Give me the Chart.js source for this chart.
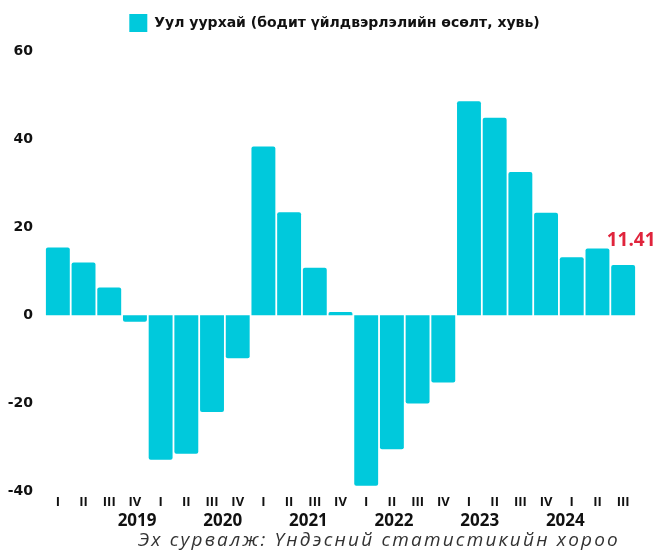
<!DOCTYPE html>
<html lang="mn">
<head>
  <meta charset="UTF-8" />
  <title>Уул уурхай</title>
  <script src="https://cdn.jsdelivr.net/npm/chart.js"></script>
  <style>
    html, body { margin: 0; padding: 0; background: #fff; }
    .wrap { width: 657px; height: 551px; }
  </style>
</head>
<body>
  <div class="wrap"><canvas id="mining"></canvas></div>

  <script>
    const quarters = ['I', 'II', 'III', 'IV', 'I', 'II', 'III', 'IV', 'I', 'II', 'III', 'IV',
      'I', 'II', 'III', 'IV', 'I', 'II', 'III', 'IV', 'I', 'II', 'III'];
    const growth = [15.4, 12.0, 6.3, -1.5, -32.9, -31.5, -22.0, -9.8, 38.4, 23.4, 10.8, 0.7,
      -38.8, -30.5, -20.1, -15.3, 48.7, 44.9, 32.6, 23.3, 13.2, 15.2, 11.41];
    const years = ['2019', '2020', '2021', '2022', '2023', '2024'];
    const yearPos = [1.5, 5.5, 9.5, 13.5, 17.5, 21.5];
    const yTicks = [60, 40, 20, 0, -20, -40];

    const FONT = '"Open Sans", sans-serif';
    const WIDE = '"DejaVu Sans", sans-serif';
    const BAR = '#00c9dc';

    // last value label, source line, legend nudge
    const extras = {
      id: 'extras',
      afterLayout(chart) {
        chart.legend.left += 33;
        chart.legend.top -= 9.5;
      },
      afterDatasetsDraw(chart) {
        const ctx = chart.ctx;
        const bars = chart.getDatasetMeta(0).data;
        const last = bars[bars.length - 1];
        ctx.save();
        ctx.fillStyle = '#e0243c';
        ctx.font = 'bold 19px ' + FONT;
        ctx.textAlign = 'center';
        ctx.textBaseline = 'bottom';
        ctx.fillText(growth[growth.length - 1].toFixed(2), last.x + 8, last.y - 15);

        ctx.fillStyle = '#333';
        ctx.font = 'italic 19px ' + FONT;
        ctx.letterSpacing = '2.2px';
        ctx.textAlign = 'right';
        ctx.textBaseline = 'middle';
        ctx.fillText('Эх сурвалж: Үндэсний статистикийн хороо', 620, 541);
        ctx.restore();
      }
    };

    new Chart(document.getElementById('mining'), {
      type: 'bar',
      data: {
        labels: quarters,
        datasets: [{
          label: 'Уул уурхай (бодит үйлдвэрлэлийн өсөлт, хувь)',
          data: growth,
          backgroundColor: BAR,
          borderRadius: 2,
          barPercentage: 0.93,
          categoryPercentage: 1
        }]
      },
      options: {
        responsive: true,
        maintainAspectRatio: false,
        animation: false,
        layout: { padding: { left: 0, right: 21, top: 13.5, bottom: 22 } },
        plugins: {
          legend: {
            labels: {
              boxWidth: 18,
              boxHeight: 18,
              color: '#111',
              padding: 10,
              font: { family: WIDE, size: 14, weight: 'bold' }
            }
          },
          tooltip: { enabled: false }
        },
        scales: {
          y: {
            min: -40,
            max: 60,
            afterBuildTicks: s => { s.ticks = yTicks.map(v => ({ value: v })); },
            afterFit: s => { s.width = 45; },
            grid: { display: false, drawTicks: false },
            border: { display: false },
            ticks: {
              padding: 12,
              color: '#111',
              font: { family: WIDE, size: 14, weight: 'bold' }
            }
          },
          x: {
            grid: { display: false, drawTicks: false },
            border: { display: false },
            ticks: {
              padding: 3,
              autoSkip: false,
              maxRotation: 0,
              color: '#111',
              font: { family: FONT, size: 13, weight: 'bold' }
            }
          },
          x2: {
            type: 'linear',
            position: 'bottom',
            min: -0.5,
            max: 22.5,
            afterBuildTicks: s => { s.ticks = yearPos.map(v => ({ value: v })); },
            grid: { display: false, drawTicks: false },
            border: { display: false },
            ticks: {
              padding: -2,
              autoSkip: false,
              maxRotation: 0,
              color: '#111',
              font: { family: FONT, size: 17, weight: 'bold' },
              callback: (v, i) => years[i]
            }
          }
        }
      },
      plugins: [extras]
    });
  </script>
</body>
</html>
